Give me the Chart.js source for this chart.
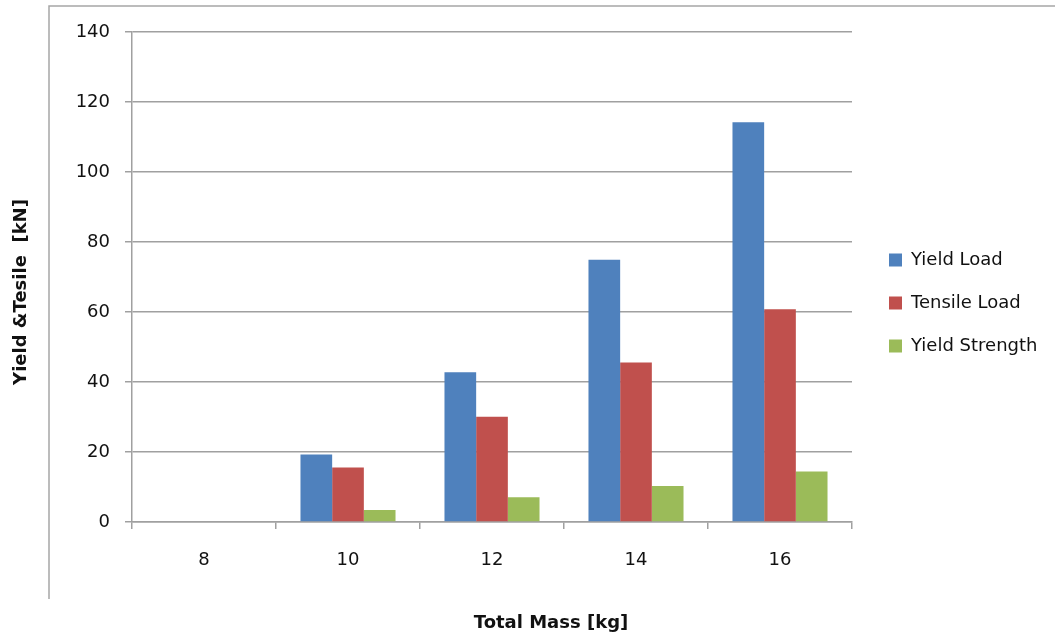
<!DOCTYPE html>
<html><head><meta charset="utf-8">
<script src="https://cdn.jsdelivr.net/npm/chart.js@4"></script>
<style>html,body{margin:0;padding:0;background:#fff}#wrap{width:1055px;height:636px;position:relative}</style>
</head><body><div id="wrap"><canvas id="c" width="1055" height="636"></canvas></div>
<script>
const categories = ['8', '10', '12', '14', '16'];
const yieldLoad = [0, 19.3, 42.8, 74.9, 114.2];
const tensileLoad = [0, 15.6, 30.1, 45.6, 60.8];
const yieldStrength = [0, 3.4, 7.05, 10.3, 14.4];
const yTicks = [0, 20, 40, 60, 80, 100, 120, 140];
const seriesNames = ['Yield Load', 'Tensile Load', 'Yield Strength'];
const seriesColors = ['#4F81BD', '#C0504D', '#9BBB59'];
const xTitle = 'Total Mass [kg]';
const yTitle = 'Yield &Tesile  [kN]';

const FONT = '"DejaVu Sans", sans-serif';
const GRID = '#a0a0a0';

function shiftTitle(scale, dx, dy) {
  if (!scale || scale._shifted) return;
  const orig = scale.drawTitle;
  scale.drawTitle = function () {
    const ctx = this.ctx;
    ctx.save();
    ctx.translate(dx, dy);
    orig.apply(this, arguments);
    ctx.restore();
  };
  scale._shifted = true;
}

const tweaks = {
  id: 'tweaks',
  beforeLayout(chart) {
    const lg = chart.legend;
    if (lg && !lg._patched) {
      const f = lg.fit;
      lg.fit = function () { f.call(this); this.width = 203; };
      lg._patched = true;
    }
  },
  afterLayout(chart) {
    const lg = chart.legend;
    if (lg) {
      lg.left = 864; lg.right = 1055; lg.width = 191;
      lg.top = 0; lg.bottom = 606; lg.height = 606;
    }
    shiftTitle(chart.scales.x, 59, 0);
    shiftTitle(chart.scales.y, 0, 15);
  },
  beforeDraw(chart) {
    const ctx = chart.ctx;
    ctx.save();
    ctx.strokeStyle = '#a6a6a6';
    ctx.lineWidth = 1.5;
    ctx.beginPath();
    ctx.moveTo(49, 599); ctx.lineTo(49, 6); ctx.lineTo(1055, 6);
    ctx.stroke();
    ctx.restore();
  }
};

new Chart(document.getElementById('c'), {
  type: 'bar',
  data: {
    labels: categories,
    datasets: [
      { label: seriesNames[0], data: yieldLoad, backgroundColor: seriesColors[0] },
      { label: seriesNames[1], data: tensileLoad, backgroundColor: seriesColors[1] },
      { label: seriesNames[2], data: yieldStrength, backgroundColor: seriesColors[2] }
    ]
  },
  options: {
    responsive: false,
    animation: false,
    devicePixelRatio: 1,
    layout: { padding: { top: 32, left: 0, right: 0, bottom: 0 } },
    datasets: { bar: { categoryPercentage: 0.66, barPercentage: 1.0, borderWidth: 0 } },
    plugins: {
      tooltip: { enabled: false },
      legend: {
        position: 'right',
        align: 'center',
        labels: {
          boxWidth: 13, boxHeight: 13, padding: 25,
          color: '#111',
          font: { family: FONT, size: 18 }
        }
      }
    },
    scales: {
      x: {
        grid: { display: true, drawOnChartArea: false, drawTicks: true, tickLength: 7, color: GRID, lineWidth: 1.5, offset: true },
        border: { display: true, color: GRID, width: 1.5 },
        ticks: { color: '#111', padding: 21, font: { family: FONT, size: 18 } },
        title: { display: true, text: xTitle, color: '#111', padding: { top: 0, bottom: 2 }, font: { family: FONT, size: 18, weight: 'bold' } },
        afterFit(s) { s.height = 114; }
      },
      y: {
        min: 0, max: 140,
        afterBuildTicks(s) { s.ticks = yTicks.map(v => ({ value: v })); },
        grid: { color: GRID, lineWidth: 1.5, tickLength: 7, drawTicks: true },
        border: { display: true, color: GRID, width: 1.5 },
        ticks: { color: '#111', padding: 15, font: { family: FONT, size: 18 } },
        title: { display: true, text: yTitle, color: '#111', padding: { top: 11, bottom: 0 }, font: { family: FONT, size: 18, weight: 'bold' } },
        afterFit(s) { s.width = 132; }
      }
    }
  },
  plugins: [tweaks]
});
</script></body></html>
